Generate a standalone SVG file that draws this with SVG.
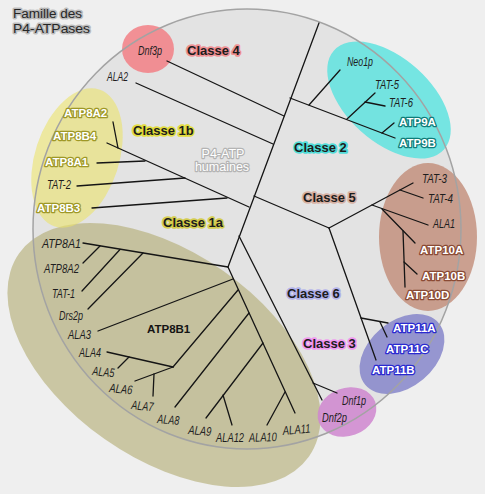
<svg xmlns="http://www.w3.org/2000/svg" width="485" height="494" viewBox="0 0 485 494">
<style>
text{font-family:"Liberation Sans",Arial,sans-serif}
.it{font-style:italic;font-size:12.5px;fill:#1e1e1e}
.bw{font-weight:bold;font-size:11.5px;fill:#fff;stroke-width:2.6;stroke-linejoin:round;paint-order:stroke fill}
.cl{font-weight:bold;font-size:13px;fill:#1c1c1c;stroke-width:3.4;stroke-linejoin:round;paint-order:stroke fill;stroke-opacity:.9}
.ln{stroke:#151515;stroke-width:1.3;fill:none;stroke-linecap:round}
.y{stroke:#9e9826}.c{stroke:#0f7c79}.b{stroke:#8a4a34}.u{stroke:#2a2ad0}
.tt{font-size:12.5px;fill:#262626;stroke:#9a9a9a;stroke-width:3;stroke-opacity:.6;stroke-linejoin:round;paint-order:stroke fill}
</style>
<rect width="485" height="494" fill="#efefef"/>
<ellipse cx="247" cy="229" rx="214" ry="220" fill="#e3e3e3"/>
<g id="clusters">
<ellipse cx="164" cy="355" rx="177" ry="103" transform="rotate(35 164 355)" fill="#b3ac74" opacity="0.62"/>
<ellipse cx="148" cy="49" rx="26" ry="24" fill="#f27f85" opacity="0.85"/>
<ellipse cx="389" cy="100" rx="74" ry="42" transform="rotate(42 389 100)" fill="#56e2de" opacity="0.8"/>
<ellipse cx="77" cy="158" rx="42" ry="72" transform="rotate(18 77 158)" fill="#ebe36a" opacity="0.6"/>
<ellipse cx="428" cy="237" rx="49" ry="74" fill="#bf8670" opacity="0.75"/>
<ellipse cx="402" cy="354" rx="48" ry="33" transform="rotate(-40 402 354)" fill="#7f80c8" opacity="0.8"/>
<ellipse cx="347" cy="412" rx="30" ry="24" transform="rotate(-20 347 412)" fill="#cf86cf" opacity="0.85"/>
</g>
<ellipse cx="247" cy="229" rx="214" ry="220" fill="none" stroke="#a3a3a3" stroke-width="1.5"/>
<g id="connectors">
<line class="ln" x1="319" y1="23" x2="228" y2="267" stroke-width="3"/>
<line class="ln" x1="167" y1="61" x2="284" y2="116"/>
<line class="ln" x1="136" y1="83" x2="273" y2="144"/>
<line class="ln" x1="290" y1="98" x2="395" y2="138"/>
<line class="ln" x1="309" y1="105" x2="340" y2="70"/>
<line class="ln" x1="347" y1="119" x2="375" y2="93"/>
<line class="ln" x1="365" y1="102" x2="385" y2="106"/>
<line class="ln" x1="382" y1="133" x2="394" y2="123"/>
<line class="ln" x1="107" y1="143" x2="249" y2="207"/>
<line class="ln" x1="113" y1="122" x2="118" y2="148"/>
<line class="ln" x1="97" y1="163" x2="145" y2="161"/>
<line class="ln" x1="77" y1="186" x2="185" y2="178"/>
<line class="ln" x1="92" y1="208" x2="227" y2="198"/>
<line class="ln" x1="254" y1="196" x2="329" y2="228"/>
<line class="ln" x1="329" y1="228" x2="413" y2="183"/>
<line class="ln" x1="400" y1="190" x2="423" y2="198"/>
<line class="ln" x1="372" y1="205" x2="428" y2="225"/>
<line class="ln" x1="382" y1="209" x2="415" y2="243"/>
<line class="ln" x1="403" y1="231" x2="405" y2="287"/>
<line class="ln" x1="404" y1="262" x2="417" y2="274"/>
<line class="ln" x1="329" y1="228" x2="376" y2="360"/>
<line class="ln" x1="361" y1="318" x2="388" y2="323"/>
<line class="ln" x1="380" y1="322" x2="387" y2="337"/>
<line class="ln" x1="239" y1="236" x2="322" y2="400"/>
<line class="ln" x1="313" y1="383" x2="337" y2="393"/>
<line class="ln" x1="228" y1="267" x2="83" y2="243"/>
<line class="ln" x1="100" y1="246" x2="83" y2="263"/>
<line class="ln" x1="120" y1="249.5" x2="82" y2="291"/>
<line class="ln" x1="143" y1="253" x2="88" y2="309"/>
<line class="ln" x1="228" y1="267" x2="295" y2="413"/>
<line class="ln" x1="233" y1="279" x2="98" y2="331"/>
<line class="ln" x1="238" y1="290" x2="173" y2="367"/>
<line class="ln" x1="107" y1="352" x2="173" y2="367"/>
<line class="ln" x1="129" y1="357" x2="118" y2="368"/>
<line class="ln" x1="135" y1="381" x2="173" y2="367"/>
<line class="ln" x1="154" y1="374" x2="153" y2="396"/>
<line class="ln" x1="249" y1="313" x2="175" y2="407"/>
<line class="ln" x1="263" y1="343" x2="206" y2="418"/>
<line class="ln" x1="223" y1="395" x2="232" y2="425"/>
<line class="ln" x1="285" y1="392" x2="267" y2="425"/>
</g>
<g id="title"><text class="tt" x="13" y="18" textLength="69" lengthAdjust="spacingAndGlyphs">Famille des</text><text class="tt" x="13" y="32.5" textLength="77" lengthAdjust="spacingAndGlyphs">P4-ATPases</text></g>
<g id="center-label"><text x="223" y="158" font-size="12.5" text-anchor="middle" fill="#fff" stroke="#b4b4b4" stroke-width="2.4" stroke-linejoin="round" paint-order="stroke fill">P4-ATP</text><text x="222" y="171" font-size="12.5" text-anchor="middle" fill="#fff" stroke="#b4b4b4" stroke-width="2.4" stroke-linejoin="round" paint-order="stroke fill">humaines</text></g>
<g id="classe4"><text class="cl" x="187" y="55" stroke="#f0868a" fill="#3a0b10">Classe 4</text></g>
<g id="classe1b"><text class="cl" x="133" y="135" stroke="#e2dc2c">Classe 1b</text></g>
<g id="classe2"><text class="cl" x="294" y="152" stroke="#3fdcd8" fill="#0c2424">Classe 2</text></g>
<g id="classe5"><text class="cl" x="303" y="202" stroke="#d6ab9c" fill="#2a160e">Classe 5</text></g>
<g id="classe1a"><text class="cl" x="163" y="227" stroke="#d2ca3c">Classe 1a</text></g>
<g id="classe6"><text class="cl" x="287" y="298" stroke="#acacec" fill="#16163e">Classe 6</text></g>
<g id="classe3"><text class="cl" x="303" y="348" stroke="#f28ef2" fill="#2a0a28">Classe 3</text></g>
<g id="Dnf3p"><text class="it" x="138" y="55" textLength="24" lengthAdjust="spacingAndGlyphs" fill="#4a0a12">Dnf3p</text></g>
<g id="ALA2"><text class="it" x="107" y="81" textLength="21" lengthAdjust="spacingAndGlyphs">ALA2</text></g>
<g id="Neo1p"><text class="it" x="347" y="66" textLength="26" lengthAdjust="spacingAndGlyphs" fill="#0a4444">Neo1p</text></g>
<g id="TAT-5"><text class="it" x="375" y="89" textLength="24" lengthAdjust="spacingAndGlyphs" fill="#0a4444">TAT-5</text></g>
<g id="TAT-6"><text class="it" x="389" y="107" textLength="24" lengthAdjust="spacingAndGlyphs" fill="#0a4444">TAT-6</text></g>
<g id="ATP9A"><text class="bw c" x="399" y="126">ATP9A</text></g>
<g id="ATP9B"><text class="bw c" x="399" y="147">ATP9B</text></g>
<g id="ATP8A2-1b"><text class="bw y" x="64" y="117">ATP8A2</text></g>
<g id="ATP8B4"><text class="bw y" x="53" y="140">ATP8B4</text></g>
<g id="ATP8A1-1b"><text class="bw y" x="45" y="166">ATP8A1</text></g>
<g id="TAT-2"><text class="it" x="47" y="189" textLength="24" lengthAdjust="spacingAndGlyphs" fill="#2a2810">TAT-2</text></g>
<g id="ATP8B3"><text class="bw y" x="37" y="212">ATP8B3</text></g>
<g id="TAT-3"><text class="it" x="422" y="183" textLength="25" lengthAdjust="spacingAndGlyphs" fill="#38180e">TAT-3</text></g>
<g id="TAT-4"><text class="it" x="428" y="203" textLength="25" lengthAdjust="spacingAndGlyphs" fill="#38180e">TAT-4</text></g>
<g id="ALA1"><text class="it" x="433" y="228" textLength="22" lengthAdjust="spacingAndGlyphs" fill="#38180e">ALA1</text></g>
<g id="ATP10A"><text class="bw b" x="420" y="254">ATP10A</text></g>
<g id="ATP10B"><text class="bw b" x="422" y="280">ATP10B</text></g>
<g id="ATP10D"><text class="bw b" x="406" y="299">ATP10D</text></g>
<g id="ATP11A"><text class="bw u" x="393" y="332">ATP11A</text></g>
<g id="ATP11C"><text class="bw u" x="386" y="353">ATP11C</text></g>
<g id="ATP11B"><text class="bw u" x="372" y="374">ATP11B</text></g>
<g id="Dnf1p"><text class="it" x="342" y="405" textLength="24" lengthAdjust="spacingAndGlyphs" fill="#3d0a3a">Dnf1p</text></g>
<g id="Dnf2p"><text class="it" x="322" y="422" textLength="25" lengthAdjust="spacingAndGlyphs" fill="#3d0a3a">Dnf2p</text></g>
<g id="ATP8A1-1a"><text class="it" x="42" y="248" textLength="39" lengthAdjust="spacingAndGlyphs">ATP8A1</text></g>
<g id="ATP8A2-1a"><text class="it" x="44" y="273" textLength="35" lengthAdjust="spacingAndGlyphs">ATP8A2</text></g>
<g id="TAT-1"><text class="it" x="52" y="298" textLength="23" lengthAdjust="spacingAndGlyphs">TAT-1</text></g>
<g id="Drs2p"><text class="it" x="59" y="320" textLength="24" lengthAdjust="spacingAndGlyphs">Drs2p</text></g>
<g id="ALA3"><text class="it" x="68" y="339" textLength="23" lengthAdjust="spacingAndGlyphs">ALA3</text></g>
<g id="ATP8B1"><text x="147" y="333" font-size="11.5" font-weight="bold" fill="#141414">ATP8B1</text></g>
<g id="ALA4"><text class="it" x="79" y="357" textLength="22" lengthAdjust="spacingAndGlyphs">ALA4</text></g>
<g id="ALA5"><text class="it" x="92" y="375" textLength="22" lengthAdjust="spacingAndGlyphs" transform="rotate(6 92 375)">ALA5</text></g>
<g id="ALA6"><text class="it" x="109" y="392" textLength="23" lengthAdjust="spacingAndGlyphs" transform="rotate(6 109 392)">ALA6</text></g>
<g id="ALA7"><text class="it" x="131" y="409" textLength="22" lengthAdjust="spacingAndGlyphs" transform="rotate(6 131 409)">ALA7</text></g>
<g id="ALA8"><text class="it" x="157" y="423" textLength="22" lengthAdjust="spacingAndGlyphs" transform="rotate(5 157 423)">ALA8</text></g>
<g id="ALA9"><text class="it" x="188" y="434" textLength="23" lengthAdjust="spacingAndGlyphs" transform="rotate(5 188 434)">ALA9</text></g>
<g id="ALA12"><text class="it" x="216" y="442" textLength="28" lengthAdjust="spacingAndGlyphs">ALA12</text></g>
<g id="ALA10"><text class="it" x="249" y="442" textLength="28" lengthAdjust="spacingAndGlyphs" transform="rotate(-2 249 442)">ALA10</text></g>
<g id="ALA11"><text class="it" x="283" y="435" textLength="28" lengthAdjust="spacingAndGlyphs" transform="rotate(-5 283 435)">ALA11</text></g>
</svg>
